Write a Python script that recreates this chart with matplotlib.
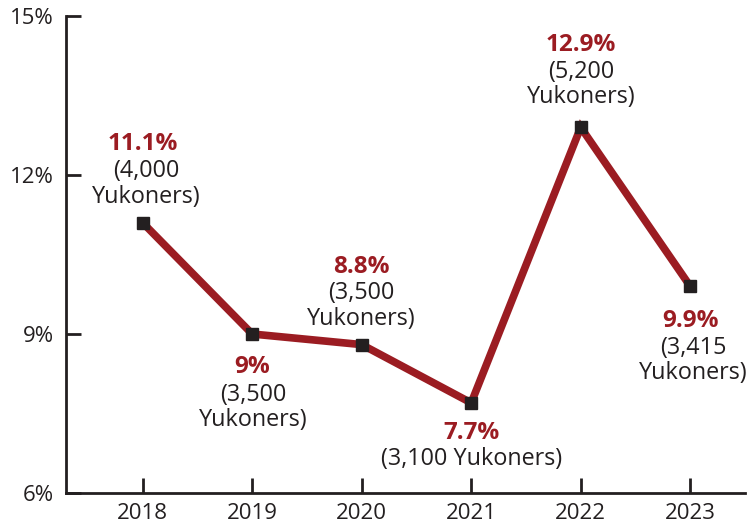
import matplotlib
matplotlib.use("Agg")
import matplotlib.pyplot as plt

years = [2018, 2019, 2020, 2021, 2022, 2023]
rates = [11.1, 9.0, 8.8, 7.7, 12.9, 9.9]
pct_labels = ["11.1%", "9%", "8.8%", "7.7%", "12.9%", "9.9%"]
count_labels = ["(4,000\nYukoners)", "(3,500\nYukoners)", "(3,500\nYukoners)",
                "(3,100 Yukoners)", "(5,200\nYukoners)", "(3,415\nYukoners)"]
y_ticks = [6, 9, 12, 15]

RED = "#9b1c22"
DARK = "#231f20"
plt.rcParams['font.family'] = ['Open Sans', 'DejaVu Sans']

fig = plt.figure(figsize=(7.48, 5.27), dpi=100)
ax = fig.add_axes([66/748, 34/527, (745-66)/748, (493-16)/527])

ax.plot(years, rates, color=RED, lw=5.5, solid_joinstyle='miter', zorder=2)
ax.plot(years, rates, ls='none', marker='s', ms=8.5, color=DARK, zorder=3)

ax.set_xlim(2017.3, 2023.5)
ax.set_ylim(6, 15)
ax.set_yticks(y_ticks)
ax.set_yticklabels([f"{v}%" for v in y_ticks])
ax.set_xticks(years)
ax.set_xticklabels([str(y) for y in years])

for s in ['top', 'right']:
    ax.spines[s].set_visible(False)
for s in ['left', 'bottom']:
    ax.spines[s].set_color(DARK)
    ax.spines[s].set_linewidth(2)
ax.tick_params(axis='both', direction='in', length=11, width=2, color=DARK,
               labelsize=16, labelcolor=DARK)
ax.tick_params(axis='y', pad=9)
ax.tick_params(axis='x', pad=7)

# (pct offset, count offset, dx) in pixels
offsets = [(79, 38.5, 4), (-33, -73.5, 1), (77.6, 38.6, 0),
           (-30, -56, 0), (82, 43, 1), (-35, -74, 3)]
for x, y, p, c, (po, co, dx) in zip(years, rates, pct_labels, count_labels, offsets):
    ax.annotate(p, (x, y), xytext=(0, po), textcoords='offset pixels',
                ha='center', va='center', color=RED, fontsize=17.5, fontweight='bold')
    ax.annotate(c, (x, y), xytext=(dx, co), textcoords='offset pixels',
                ha='center', va='center', color=DARK, fontsize=16.8, linespacing=1.08)

fig.savefig("out.png", dpi=100)
